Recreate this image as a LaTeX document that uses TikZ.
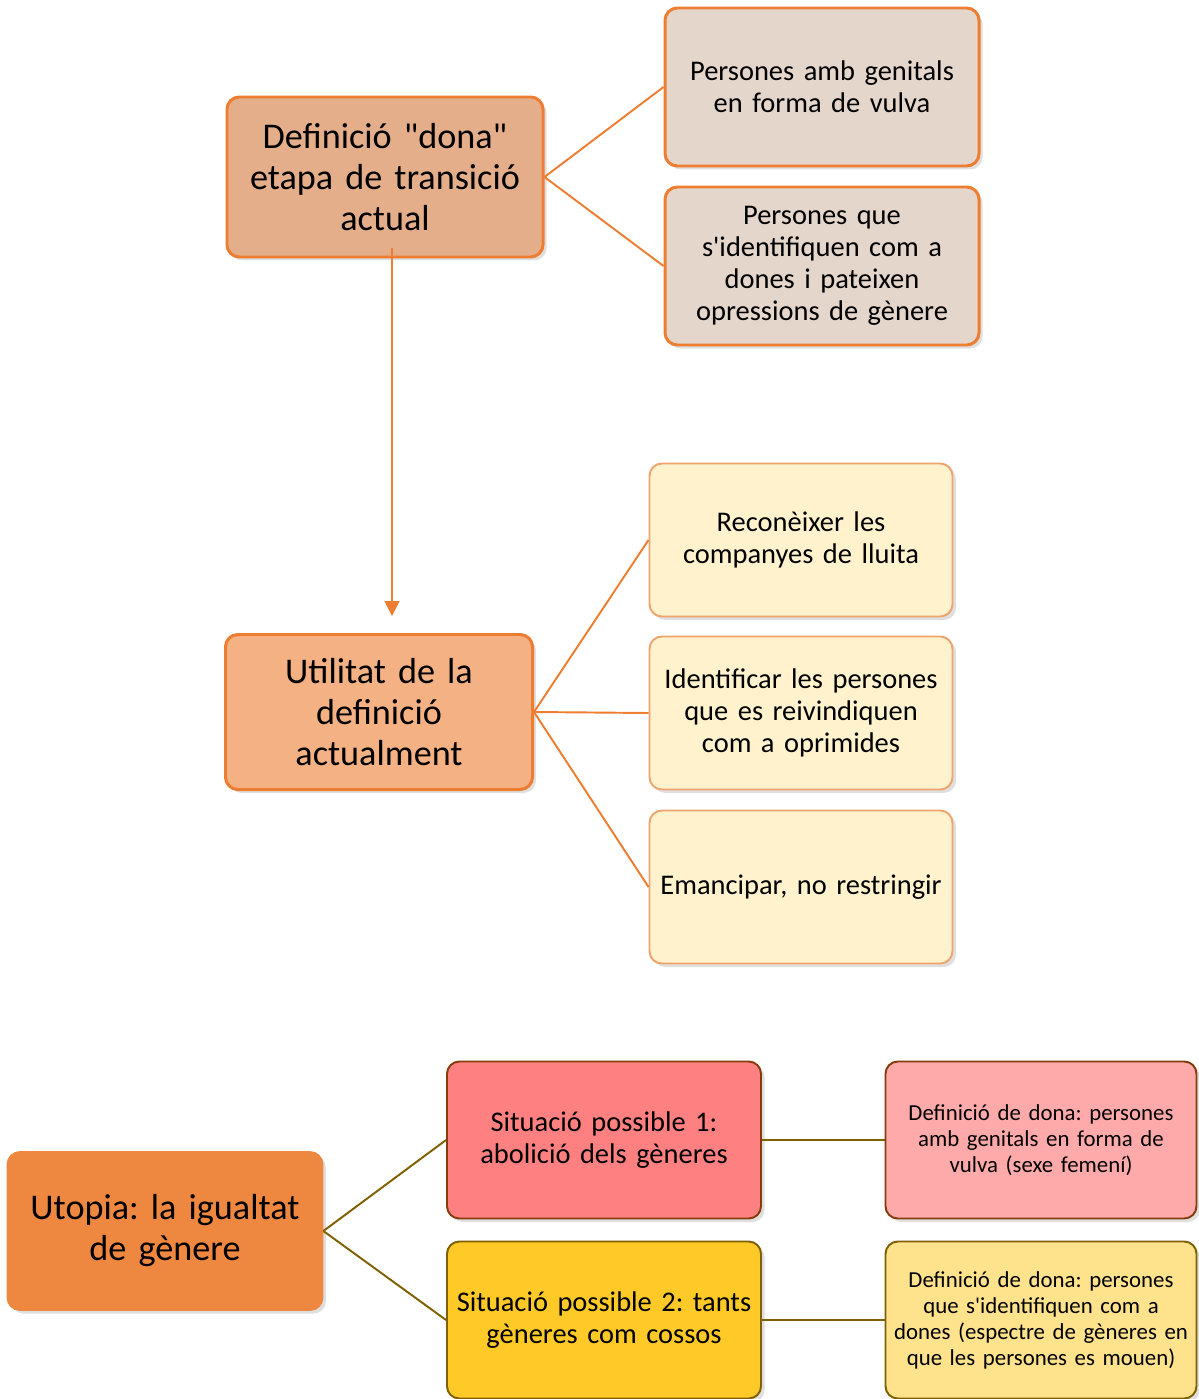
\documentclass[tikz,border=0pt]{standalone}
\usepackage{fontspec}
\setmainfont{Carlito}[Ligatures=TeXOff]
\usepackage{xcolor}
\usetikzlibrary{arrows.meta,shadows}

\definecolor{orangeline}{HTML}{ED7D31}
\definecolor{defcol}{HTML}{E5AE8A}
\definecolor{beigecol}{HTML}{E4D6CA}
\definecolor{utilcol}{HTML}{F4B183}
\definecolor{creamborder}{HTML}{EFA46E}
\definecolor{creamcol}{HTML}{FFF2CC}
\definecolor{utopcol}{HTML}{EE8740}
\definecolor{redcol}{HTML}{FF8080}
\definecolor{pinkcol}{HTML}{FFAAAA}
\definecolor{goldcol}{HTML}{FFC928}
\definecolor{palegold}{HTML}{FFE28C}
\definecolor{brownline}{HTML}{843C0C}
\definecolor{oliveline}{HTML}{7F6000}

\begin{document}
\frenchspacing
\begin{tikzpicture}
    \tikzstyle{every node}=[align=center]
    \tikzstyle{box}=[rounded corners=7pt, inner xsep=1pt, drop shadow={opacity=0.25,shadow xshift=0.07cm,shadow yshift=-0.07cm}]
    \tikzstyle{bigtext}=[font=\fontsize{20.6}{23.3}\selectfont]
    \tikzstyle{midtext}=[font=\fontsize{16.2}{18.2}\selectfont]
    \tikzstyle{smalltext}=[font=\fontsize{13}{14.8}\selectfont]
    \useasboundingbox (0,0) rectangle (23.96,-27.98);
    % first block
    \node [box, bigtext, draw=orangeline, line width=1.7pt, fill=defcol, minimum width=6.32cm, minimum height=3.2cm, text width=6.2cm] (def) at (7.70,-3.54) {Definició "dona"\\ etapa de transició\\ actual};
    \node [box, midtext, draw=orangeline, line width=1.7pt, fill=beigecol, minimum width=6.28cm, minimum height=3.16cm, text width=6.16cm] (gen) at (16.44,-1.74) {Persones amb genitals\\ en forma de vulva};
    \node [box, midtext, draw=orangeline, line width=1.7pt, fill=beigecol, minimum width=6.28cm, minimum height=3.16cm, text width=6.16cm] (ident) at (16.44,-5.32) {Persones que\\ s'identifiquen com a\\ dones i pateixen\\ opressions de gènere};
    \draw [orangeline, line width=1.1pt] (def.east) -- (gen.west);
    \draw [orangeline, line width=1.1pt] (def.east) -- (ident.west);
    % second block
    \node [box, bigtext, draw=orangeline, line width=1.7pt, fill=utilcol, minimum width=6.14cm, minimum height=3.1cm, text width=6.02cm] (util) at (7.58,-14.24) {Utilitat de la\\ definició\\ actualment};
    \draw [orangeline, line width=0.6pt, -{Triangle[length=0.3cm,width=0.3cm]}, shorten >=0.34cm] ([xshift=0.14cm,yshift=0.2cm]def.south) -- ([xshift=0.26cm]util.north);
    \node [box, midtext, draw=creamborder, line width=1.1pt, fill=creamcol, minimum width=6.06cm, minimum height=3.06cm, text width=5.96cm] (recon) at (16.02,-10.80) {Reconèixer les\\ companyes de lluita};
    \node [box, midtext, draw=creamborder, line width=1.1pt, fill=creamcol, minimum width=6.06cm, minimum height=3.06cm, text width=5.96cm] (reiv) at (16.02,-14.26) {Identificar les persones\\ que es reivindiquen\\ com a oprimides};
    \node [box, midtext, draw=creamborder, line width=1.1pt, fill=creamcol, minimum width=6.06cm, minimum height=3.06cm, text width=5.96cm] (eman) at (16.02,-17.74) {Emancipar, no restringir};
    \draw [orangeline, line width=1.1pt] (util.east) -- (recon.west);
    \draw [orangeline, line width=1.1pt] (util.east) -- (reiv.west);
    \draw [orangeline, line width=1.1pt] (util.east) -- (eman.west);
    % third block
    \node [box, bigtext, draw=utopcol, line width=1pt, fill=utopcol, minimum width=6.3cm, minimum height=3.16cm, text width=6.2cm] (utop) at (3.30,-24.62) {Utopia: la igualtat\\ de gènere};
    \node [box, midtext, draw=brownline, line width=1.1pt, fill=redcol, minimum width=6.28cm, minimum height=3.14cm, text width=6.18cm] (sit1) at (12.08,-22.80) {Situació possible 1:\\ abolició dels gèneres};
    \node [box, midtext, draw=oliveline, line width=1.1pt, fill=goldcol, minimum width=6.28cm, minimum height=3.14cm, text width=6.18cm] (sit2) at (12.08,-26.40) {Situació possible 2: tants\\ gèneres com cossos};
    \node [box, smalltext, draw=brownline, line width=1.1pt, fill=pinkcol, minimum width=6.22cm, minimum height=3.14cm, text width=6.12cm] (dona1) at (20.82,-22.80) {Definició de dona: persones\\ amb genitals en forma de\\ vulva (sexe femení)};
    \node [box, smalltext, draw=oliveline, line width=1.1pt, fill=palegold, minimum width=6.22cm, minimum height=3.14cm, text width=6.12cm] (dona2) at (20.82,-26.40) {Definició de dona: persones\\ que s'identifiquen com a\\ dones (espectre de gèneres en\\ que les persones es mouen)};
    \draw [oliveline, line width=1.1pt] (utop.east) -- (sit1.west);
    \draw [oliveline, line width=1.1pt] (utop.east) -- (sit2.west);
    \draw [oliveline, line width=1.1pt] (sit1.east) -- (dona1.west);
    \draw [oliveline, line width=1.1pt] (sit2.east) -- (dona2.west);
\end{tikzpicture}
\end{document}
